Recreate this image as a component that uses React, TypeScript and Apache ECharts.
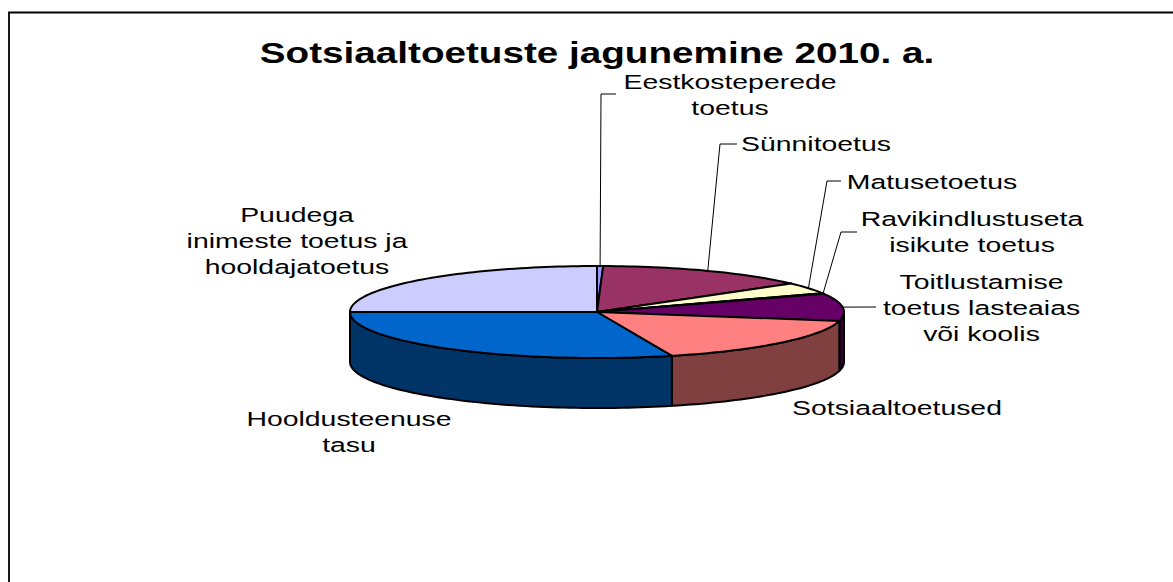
import React, { useEffect, useRef } from "react";
import * as echarts from "echarts";

const categories = [
  "Eestkosteperede toetus",
  "Sünnitoetus",
  "Matusetoetus",
  "Ravikindlustuseta isikute toetus",
  "Toitlustamise toetus lasteaias või koolis",
  "Sotsiaaltoetused",
  "Hooldusteenuse tasu",
  "Puudega inimeste toetus ja hooldajatoetus",
];
const shares = [0.4, 14.0, 3.9, 0.2, 9.6, 17.0, 29.9, 25.0];
const topColors = ["#9999FF", "#993366", "#FFFFCC", "#CCFFFF", "#660066", "#FF8080", "#0066CC", "#CCCCFF"];
const sideColors = ["#4D4D80", "#4D1A33", "#808066", "#668080", "#330033", "#804040", "#003366", "#666680"];
const labelLines = [
  ["Eestkosteperede", "toetus"],
  ["Sünnitoetus"],
  ["Matusetoetus"],
  ["Ravikindlustuseta", "isikute toetus"],
  ["Toitlustamise", "toetus lasteaias", "või koolis"],
  ["Sotsiaaltoetused"],
  ["Hooldusteenuse", "tasu"],
  ["Puudega", "inimeste toetus ja", "hooldajatoetus"],
];
const titleText = "Sotsiaaltoetuste jagunemine 2010. a.";

// layout
const CX = 597, CY = 312, RX = 247, RY = 46, DEPTH = 50;
const TEXT_STRETCH = 1.385;
const LABEL_SIZE = 20.5;
const LINE_H = 26;
// label centre x, first-line centre y
const labelAnchor = [
  [730, 82], [816, 144], [932, 182], [972, 219], [981.5, 282], [897, 408], [349, 419], [297, 215],
];
// leader elbow points (null: no leader)
const leaderPts: (number[][] | null)[] = [
  [[601, 94], [616, 94]],
  [[720, 144], [737, 144]],
  [[827, 181], [841, 181]],
  [[841, 232], [857, 232]],
  [[876, 307]],
  null, null, null,
];

const total = shares.reduce((a, b) => a + b, 0);
const pt = (deg: number, dy = 0) => {
  const r = (deg * Math.PI) / 180;
  return [CX + RX * Math.sin(r), CY - RY * Math.cos(r) + dy];
};
// points along the rim from a0 to a1, clockwise
const rim = (a0: number, a1: number, dy = 0) => {
  const n = Math.max(1, Math.ceil((a1 - a0) / 1.5));
  const out: number[][] = [];
  for (let k = 0; k <= n; k++) out.push(pt(a0 + ((a1 - a0) * k) / n, dy));
  return out;
};

function renderSlice(params: any, api: any) {
  const i = params.dataIndex;
  const before = shares.slice(0, i).reduce((a, b) => a + b, 0);
  const a0 = (before / total) * 360;
  const a1 = a0 + (api.value(0) / total) * 360;
  const children: any[] = [];
  const stroke = { stroke: "#000", lineWidth: 2, lineJoin: "round" };

  // visible front wall: angles 90..270
  const s0 = Math.max(a0, 90);
  const s1 = Math.min(a1, 270);
  if (s1 > s0) {
    children.push({
      type: "polygon",
      shape: { points: [...rim(s0, s1), ...rim(s0, s1, DEPTH).reverse()] },
      style: { fill: sideColors[i], ...stroke },
      z2: 1,
    });
  }
  // top face
  children.push({
    type: "polygon",
    shape: { points: [[CX, CY], ...rim(a0, a1)] },
    style: { fill: topColors[i], ...stroke },
    z2: 2,
  });

  // leader
  const elbow = leaderPts[i];
  if (elbow) {
    const start = pt((a0 + a1) / 2);
    children.push({
      type: "polyline",
      shape: { points: [start, ...elbow] },
      style: { fill: "none", stroke: "#000", lineWidth: 1 },
      z2: 3,
    });
  }
  // label
  const [lx, ly] = labelAnchor[i];
  labelLines[i].forEach((line, k) => {
    children.push({
      type: "text",
      x: lx,
      y: ly + k * LINE_H,
      scaleX: TEXT_STRETCH,
      style: {
        text: line,
        fill: "#000",
        font: `${LABEL_SIZE}px "Liberation Sans", Arial, sans-serif`,
        align: "center",
        verticalAlign: "middle",
      },
      z2: 4,
    });
  });
  return { type: "group", children };
}

export default function App() {
  const ref = useRef<HTMLDivElement>(null);
  useEffect(() => {
    const chart = echarts.init(ref.current!, undefined, { renderer: "svg" });
    chart.setOption({
      animation: false,
      backgroundColor: "#fff",
      graphic: [
        {
          type: "polyline",
          silent: true,
          shape: { points: [[9, 582], [9, 12.5], [1173, 12.5]] },
          style: { fill: "none", stroke: "#000", lineWidth: 1.8 },
        },
        {
          type: "text",
          x: 597,
          y: 52.5,
          scaleX: 1.333,
          style: {
            text: titleText,
            fill: "#000",
            font: 'bold 29px "Liberation Sans", Arial, sans-serif',
            align: "center",
            verticalAlign: "middle",
          },
        },
      ],
      series: [
        {
          type: "custom",
          coordinateSystem: "none",
          renderItem: renderSlice,
          silent: true,
          data: shares.map((v, i) => ({ name: categories[i], value: [v] })),
        },
      ],
    });
    return () => chart.dispose();
  }, []);
  return (
    <div
      ref={ref}
      style={{ position: "fixed", left: 0, top: 0, width: 1173, height: 582, background: "#fff" }}
    />
  );
}
